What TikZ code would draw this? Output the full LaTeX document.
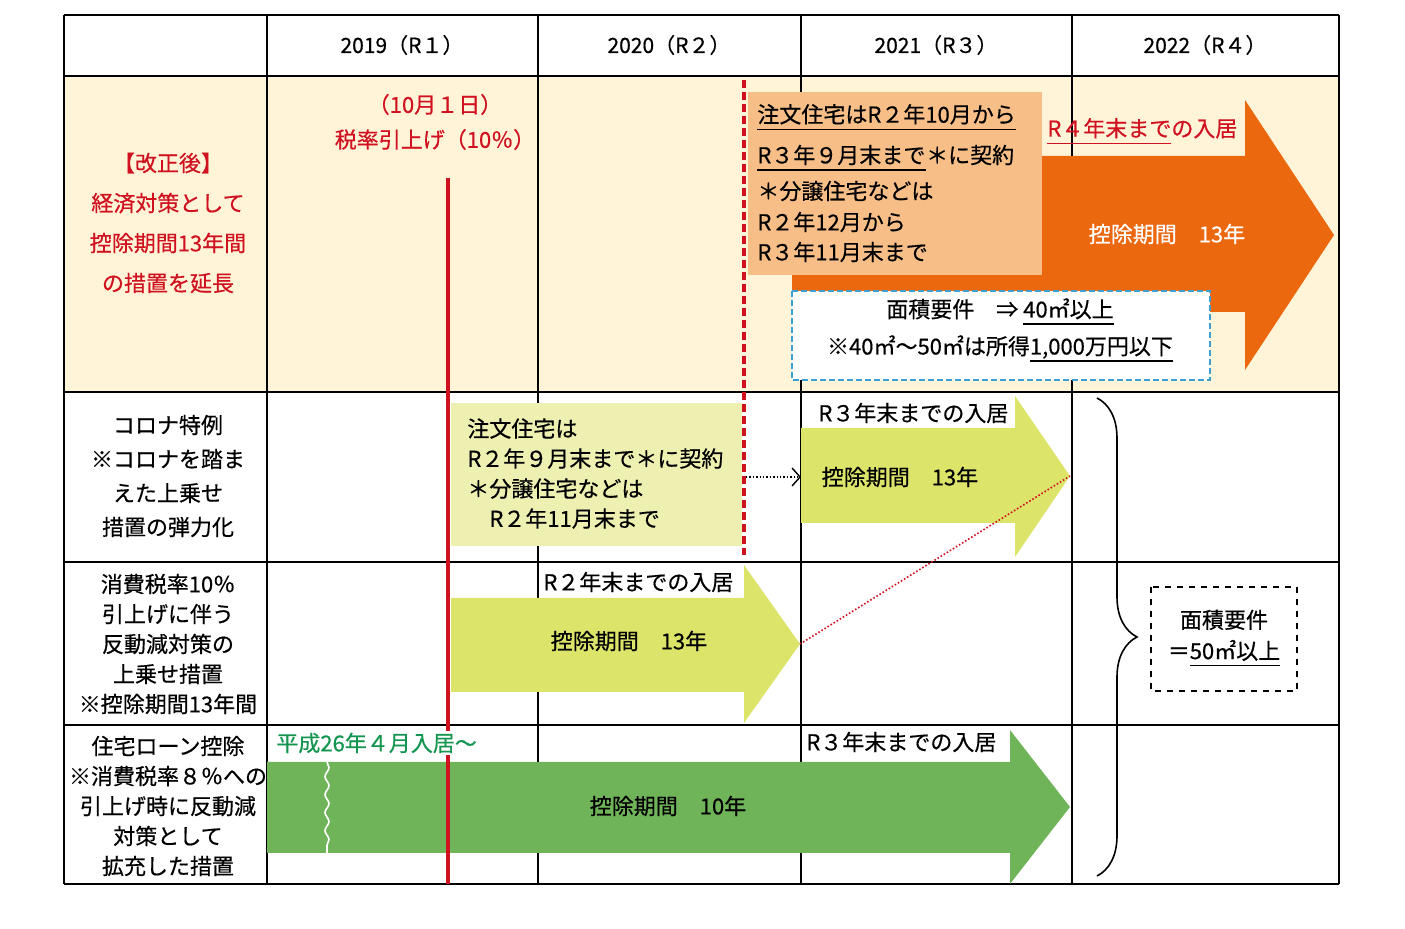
\documentclass[tikz,border=0pt]{standalone}
\usepackage{fontspec}
\setmainfont{Noto Sans CJK JP}[FakeBold=0.5]
\usetikzlibrary{arrows.meta, decorations.pathreplacing, decorations.pathmorphing}
\definecolor{cream}{RGB}{255, 244, 216}
\definecolor{taxred}{RGB}{208, 18, 32}
\definecolor{peach}{RGB}{247, 191, 135}
\definecolor{deeporange}{RGB}{236, 104, 14}
\definecolor{palelime}{RGB}{237, 240, 176}
\definecolor{lime}{RGB}{220, 228, 106}
\definecolor{leaf}{RGB}{112, 180, 90}
\definecolor{leaftext}{RGB}{20, 150, 80}
\definecolor{skyline}{RGB}{60, 160, 210}
\newsavebox{\ulnotebox}
\newcommand{\ulnote}[1]{\sbox{\ulnotebox}{#1}\rlap{\rule[-3.6pt]{\wd\ulnotebox}{0.6pt}}\usebox{\ulnotebox}}

\begin{document}
\begin{tikzpicture}[
	x=0.5pt, y=-0.5pt,
	>=Stealth,
	% Styles for the table, the blocks and the texts
	gridline/.style={line width=0.9pt, black},
	bodytext/.style={font=\fontsize{11}{15}\selectfont, text=black, inner sep=0pt, align=center},
	headtext/.style={font=\fontsize{10.5}{12}\selectfont, inner sep=0pt},
	redtext/.style={bodytext, text=taxred},
	periodtext/.style={bodytext, anchor=west},
	termlabel/.style={bodytext, anchor=west, fill=white, inner sep=1pt},
	limeblock/.style={fill=lime, draw=none},
	noteblock/.style={fill=white, draw=skyline, line width=0.8pt, dash pattern=on 3pt off 1.5pt}
	]
	\useasboundingbox (0,0) rectangle (1405,929);
	
	% ==========================================
	% 1. TABLE (header, rows and grid)
	% ==========================================
	\fill[cream] (64,76) rectangle (1339,392);
	\foreach \y in {15,76,392,562,725,884}
		\draw[gridline] (64,\y) -- (1339,\y);
	\foreach \x in {64,267,538,801,1072,1339}
		\draw[gridline] (\x,15) -- (\x,884);
	
	\node[headtext] (yearA) at (402,45) {2019（R１）};
	\node[headtext] (yearB) at (669,45) {2020（R２）};
	\node[headtext] (yearC) at (936,45) {2021（R３）};
	\node[headtext] (yearD) at (1205,45) {2022（R４）};
	
	% ==========================================
	% 2. AFTER THE REVISION (orange arrow)
	% ==========================================
	\fill[deeporange] (792,156) -- (1245,156) -- (1245,100) -- (1334,235)
		-- (1245,370) -- (1245,312) -- (792,312) -- cycle;
	\fill[peach] (748,92) rectangle (1042,275);
	\draw[noteblock] (792,291) rectangle (1210,380);
	
	% ==========================================
	% 3. CORONA, TAX RISE AND LOAN ARROWS
	% ==========================================
	\fill[palelime] (451,403) rectangle (742,546);
	\fill[limeblock] (801,428) -- (1015,428) -- (1015,396) -- (1070,476)
		-- (1015,557) -- (1015,523) -- (801,523) -- cycle;
	\fill[limeblock] (451,598) -- (744,598) -- (744,565) -- (800,644)
		-- (744,723) -- (744,692) -- (451,692) -- cycle;
	\fill[leaf] (267,762) -- (1010,762) -- (1010,730) -- (1070,807)
		-- (1010,884) -- (1010,853) -- (267,853) -- cycle;
	% Break mark on the loan arrow
	\draw[white, line width=0.8pt, decorate, decoration={snake, amplitude=1pt, segment length=9pt}]
		(327,762) -- (327,853);
	
	% Key points for the connectors
	\coordinate (coronaBoxEdge) at (746,477);
	\coordinate (coronaTail) at (801,477);
	\coordinate (coronaTip) at (1070,476);
	\coordinate (raiseTip) at (800,644);
	
	% Tax rise day and contract limit lines
	\draw[taxred, line width=1.6pt] (448,178) -- (448,884);
	\draw[taxred, line width=1.6pt, dash pattern=on 4pt off 2pt] (744,80) -- (744,555);
	
	\draw[densely dotted, line width=0.7pt, -{Straight Barb[length=4pt, width=9pt]}] (coronaBoxEdge) -- (coronaTail);
	\draw[taxred, densely dotted, line width=0.8pt] (raiseTip) -- (coronaTip);
	
	% Brace and floor area note
	\draw[decorate, decoration={brace, amplitude=20pt}, line width=0.8pt] (1097,398) -- (1097,876);
	\draw[dashed, line width=0.7pt] (1151,587) rectangle (1297,691);
	\node[bodytext, font=\fontsize{11}{15.5}\selectfont] (areaFifty) at (1224,638) {面積要件\\＝\ulnote{50㎡以上}};
	
	% ==========================================
	% 4. TEXTS
	% ==========================================
	% Row titles
	\node[redtext, font=\fontsize{11}{20}\selectfont] (titleRevised) at (168,223)
		{【改正後】\\経済対策として\\控除期間13年間\\の措置を延長};
	\node[bodytext, font=\fontsize{11}{17}\selectfont] (titleCorona) at (168,476)
		{コロナ特例\\※コロナを踏ま\\えた上乗せ\\措置の弾力化};
	\node[bodytext] (titleRaise) at (168,644)
		{消費税率10％\\引上げに伴う\\反動減対策の\\上乗せ措置\\※控除期間13年間};
	\node[bodytext] (titleLoan) at (168,806)
		{住宅ローン控除\\※消費税率８％への\\引上げ時に反動減\\対策として\\拡充した措置};
	
	% Tax rise day
	\node[redtext, font=\fontsize{11}{17.5}\selectfont] (taxDay) at (435,122) {（10月１日）\\税率引上げ（10％）};
	
	% Contract period of the revision (one node per line)
	\node[periodtext] (orderFrom) at (757,117) {\ulnote{注文住宅はR２年10月から}};
	\node[periodtext] (orderUntil) at (757,155) {R３年９月末まで};
	\node[bodytext, anchor=base west] (orderSign) at (orderUntil.base east) {＊に契約};
	\draw[line width=0.6pt] ([yshift=-3.3pt]orderUntil.base west) -- ([yshift=-3.3pt]orderUntil.base east);
	\node[periodtext] (saleNote) at (757,191) {＊分譲住宅などは};
	\node[periodtext] (saleFrom) at (757,222) {R２年12月から};
	\node[periodtext] (saleUntil) at (757,252) {R３年11月末まで};
	
	\node[periodtext, text=taxred] (untilR4) at (1047,131) {\ulnote{R４年末まで}の入居};
	\node[bodytext, text=white] (termOrange) at (1167,234) {控除期間　13年};
	\node[bodytext, font=\fontsize{11}{18.5}\selectfont] (areaForty) at (1000,330)
		{面積要件　⇒ \ulnote{40㎡以上}\\※40㎡～50㎡は所得\ulnote{1,000万円以下}};
	
	% Corona special case
	\node[bodytext, anchor=north west, align=left] (contractCorona) at (467,418)
		{注文住宅は\\R２年９月末まで＊に契約\\＊分譲住宅などは\\　R２年11月末まで};
	\node[periodtext] (untilR3a) at (818,413) {R３年末までの入居};
	\node[bodytext] (termCorona) at (900,477) {控除期間　13年};
	
	% Tax rise measure
	\node[periodtext] (untilR2) at (543,582) {R２年末までの入居};
	\node[bodytext] (termRaise) at (629,641) {控除期間　13年};
	
	% Housing loan deduction
	\node[termlabel, text=leaftext] (fromH26) at (274,743) {平成26年４月入居～};
	\node[periodtext] (untilR3b) at (806,742) {R３年末までの入居};
	\node[bodytext] (termLoan) at (668,806) {控除期間　10年};
	
\end{tikzpicture}
\end{document}
